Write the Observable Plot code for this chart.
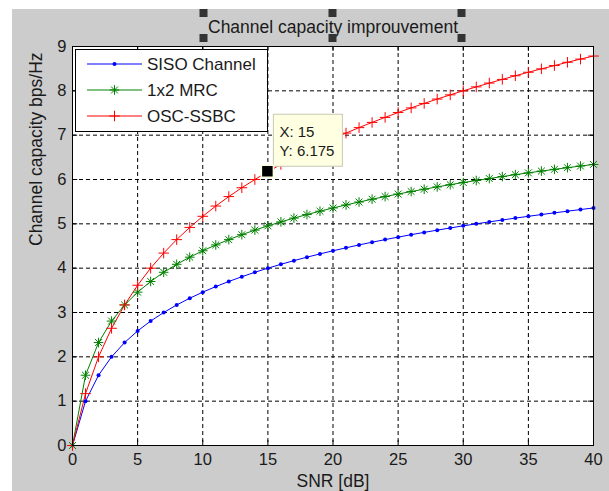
<!DOCTYPE html>
<html><head><meta charset="utf-8">
<script src="https://cdn.jsdelivr.net/npm/d3@7"></script>
<script src="https://cdn.jsdelivr.net/npm/@observablehq/plot@0.6"></script>
<style>
html,body{margin:0;padding:0;background:#fff;}
#wrap{position:absolute;left:12px;top:9px;width:597px;height:482px;background:#cccccc;overflow:visible}
#wrap svg{overflow:visible}
</style></head><body><div id="wrap"></div>
<script>
const snr = [0,1,2,3,4,5,6,7,8,9,10,11,12,13,14,15,16,17,18,19,20,21,22,23,24,25,26,27,28,29,30,31,32,33,34,35,36,37,38,39,40];
const sisoCapacity = [0,1.000,1.585,2.000,2.322,2.585,2.807,3.000,3.170,3.322,3.459,3.585,3.700,3.807,3.907,4.000,4.087,4.170,4.248,4.322,4.392,4.459,4.524,4.585,4.644,4.700,4.755,4.807,4.858,4.907,4.954,5.000,5.044,5.087,5.129,5.170,5.209,5.248,5.285,5.322,5.358];
const mrcCapacity = [0,1.585,2.322,2.807,3.170,3.459,3.700,3.907,4.087,4.248,4.392,4.524,4.644,4.755,4.858,4.954,5.044,5.129,5.209,5.285,5.358,5.426,5.492,5.555,5.615,5.672,5.728,5.781,5.833,5.883,5.931,5.977,6.022,6.066,6.109,6.150,6.190,6.229,6.267,6.304,6.340];
const oscCapacity = [0,1.170,2.000,2.644,3.170,3.615,4.000,4.340,4.644,4.919,5.170,5.401,5.615,5.814,6.000,6.175,6.340,6.496,6.644,6.785,6.919,7.047,7.170,7.288,7.401,7.510,7.615,7.716,7.814,7.909,8.000,8.089,8.175,8.258,8.340,8.419,8.496,8.570,8.644,8.716,8.785];
const seriesNames = ["SISO Channel", "1x2 MRC", "OSC-SSBC"];
const seriesColors = ["#0000ff", "#008000", "#ff0000"];
const xTicks = [0,5,10,15,20,25,30,35,40];
const yTicks = [0,1,2,3,4,5,6,7,8,9];
const titleText = "Channel capacity improuvement";
const xLabel = "SNR [dB]";
const yLabel = "Channel capacity bps/Hz";
const tipX = 15;
const tipY = 6.175;

const seriesValues = [sisoCapacity, mrcCapacity, oscCapacity];
const rows = [];
seriesNames.forEach((name, k) => snr.forEach((s, i) => rows.push({snr: s, cap: seriesValues[k][i], series: name})));
const bySeries = name => rows.filter(d => d.series === name);

const FONT = "'Liberation Sans', Arial, Helvetica, sans-serif";
const ink = "#1a1a1a";
const rStar = 3.2, rPlus = 3.5;

const chart = Plot.plot({
  width: 597, height: 482,
  marginLeft: 60, marginRight: 16, marginTop: 37, marginBottom: 46,
  style: {background: "transparent", fontFamily: FONT, fontSize: "16.5px", color: ink},
  x: {domain: [0, 40]},
  y: {domain: [0, 9]},
  color: {domain: seriesNames, range: seriesColors},
  marks: [
    Plot.frame({fill: "white", stroke: null}),
    Plot.gridX(xTicks, {stroke: "#000", strokeOpacity: 1, strokeDasharray: "4,3"}),
    Plot.gridY(yTicks, {stroke: "#000", strokeOpacity: 1, strokeDasharray: "4,3"}),
    Plot.ruleX(xTicks, {y1: 0, y2: 0.11, stroke: "#000"}),
    Plot.ruleX(xTicks, {y1: 9, y2: 8.89, stroke: "#000"}),
    Plot.ruleY(yTicks, {x1: 0, x2: 0.4, stroke: "#000"}),
    Plot.ruleY(yTicks, {x1: 40, x2: 39.6, stroke: "#000"}),
    Plot.line(rows, {x: "snr", y: "cap", z: "series", stroke: "series", strokeWidth: 1}),
    Plot.dot(bySeries(seriesNames[0]), {x: "snr", y: "cap", r: 2, fill: seriesColors[0], stroke: null}),
    Plot.dot(bySeries(seriesNames[1]), {x: "snr", y: "cap", r: rStar, symbol: "plus", stroke: seriesColors[1], strokeWidth: 1}),
    Plot.dot(bySeries(seriesNames[1]), {x: "snr", y: "cap", r: rStar, symbol: "times", stroke: seriesColors[1], strokeWidth: 1}),
    Plot.dot(bySeries(seriesNames[2]), {x: "snr", y: "cap", r: rPlus, symbol: "plus", stroke: seriesColors[2], strokeWidth: 1}),
    Plot.frame({stroke: "#000", strokeWidth: 1}),
    Plot.axisX({ticks: xTicks, tickSize: 0, tickPadding: 8, label: null, fill: ink}),
    Plot.axisY({ticks: yTicks, tickSize: 0, tickPadding: 6, label: null, fill: ink}),
    Plot.text([xLabel], {frameAnchor: "bottom", dy: 36, text: d => d, fontSize: 17.5, fill: ink, lineAnchor: "middle"}),
    Plot.text([yLabel], {frameAnchor: "left", dx: -36, text: d => d, rotate: -90, fontSize: 17.5, fill: ink, lineAnchor: "middle"}),
    Plot.text([titleText], {frameAnchor: "top", dy: -19, text: d => d, fontSize: 17.5, fill: ink, lineAnchor: "middle", className: "title-text"})
  ]
});

document.getElementById("wrap").appendChild(chart);

const svg = d3.select(chart);
const xs = chart.scale("x"), ys = chart.scale("y");
const fx0 = xs.apply(0), fy1 = ys.apply(9);
const fcx = (xs.apply(0) + xs.apply(40)) / 2;

// Title selection handles
const tnode = chart.querySelector(".title-text text");
const tw = tnode ? tnode.getComputedTextLength() : 250;
{
  const hx = [fcx - tw / 2 - 4, fcx, fcx + tw / 2 + 4];
  const hy = [4, 29];
  const hg = svg.append("g");
  hx.forEach(x => hy.forEach(y => hg.append("rect").attr("x", x - 4).attr("y", y - 4).attr("width", 8).attr("height", 8).attr("fill", "#333")));
}

// Legend
const lg = svg.append("g").attr("transform", `translate(${fx0 + 3},${fy1 + 3})`).attr("text-anchor", "start");
lg.append("rect").attr("x", 0.5).attr("y", 0.5).attr("width", 192).attr("height", 82).attr("fill", "white").attr("stroke", "#000");
seriesNames.forEach((name, i) => {
  const y = 15 + i * 26;
  const c = seriesColors[i];
  lg.append("line").attr("x1", 12).attr("x2", 67).attr("y1", y).attr("y2", y).attr("stroke", c);
  if (i === 0) lg.append("circle").attr("cx", 39.5).attr("cy", y).attr("r", 2).attr("fill", c);
  if (i === 1) {
    lg.append("path").attr("d", d3.symbol(d3.symbolPlus, Math.PI * rStar * rStar)()).attr("transform", `translate(39.5,${y})`).attr("fill", "none").attr("stroke", c);
    lg.append("path").attr("d", d3.symbol(d3.symbolTimes, Math.PI * rStar * rStar)()).attr("transform", `translate(39.5,${y})`).attr("fill", "none").attr("stroke", c);
  }
  if (i === 2) lg.append("path").attr("d", d3.symbol(d3.symbolPlus, Math.PI * rPlus * rPlus)()).attr("transform", `translate(39.5,${y})`).attr("fill", "none").attr("stroke", c);
  lg.append("text").attr("x", 72).attr("y", y).attr("dy", "0.36em").attr("font-size", 17).attr("fill", ink).attr("font-family", FONT).attr("text-anchor", "start").text(name);
});

// Data tip
const px = xs.apply(tipX), py = ys.apply(tipY);
const tg = svg.append("g").attr("text-anchor", "start");
tg.append("rect").attr("x", px + 6).attr("y", py - 57).attr("width", 69).attr("height", 52).attr("fill", "#ffffe1").attr("stroke", "#c8c8b4");
tg.append("text").attr("x", px + 12).attr("y", py - 40).attr("dy", "0.36em").attr("font-size", 15).attr("fill", ink).attr("font-family", FONT).attr("text-anchor", "start").text(`X: ${tipX}`);
tg.append("text").attr("x", px + 12).attr("y", py - 21).attr("dy", "0.36em").attr("font-size", 15).attr("fill", ink).attr("font-family", FONT).attr("text-anchor", "start").text(`Y: ${tipY}`);
tg.append("rect").attr("x", px - 6).attr("y", py - 6).attr("width", 12).attr("height", 12).attr("fill", "#000").attr("stroke", "#ffffe1").attr("stroke-width", 1.5);
</script></body></html>
